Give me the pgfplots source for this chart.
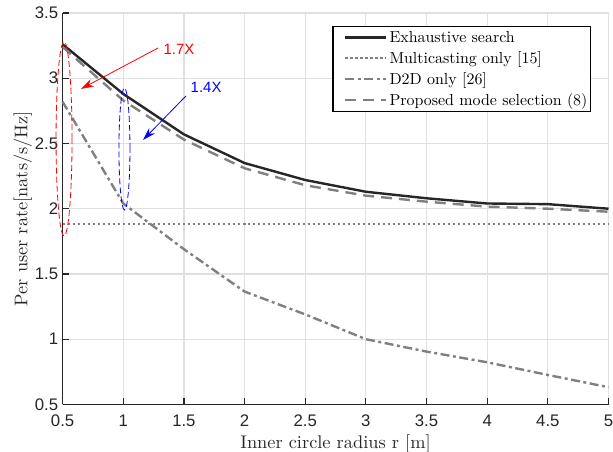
\documentclass[border=0pt]{standalone}
\usepackage{fontspec}
\setmainfont{lmroman10-regular}[Extension=.otf, BoldFont=lmroman10-bold, ItalicFont=lmroman10-italic]
\usepackage{pgfplots}
\pgfplotsset{compat=1.18}
\usetikzlibrary{arrows.meta}
\newfontfamily\arial{Liberation Sans}
\definecolor{mgray}{gray}{0.5}
\definecolor{mblack}{gray}{0.15}
\begin{document}
\begin{tikzpicture}
\begin{axis}[
  scale only axis, width=546bp, height=391.5bp,
  xmin=0.5, xmax=5, ymin=0.5, ymax=3.5,
  xtick={0.5,1,...,5}, ytick={0.5,1,...,3.5},
  axis x line*=bottom, axis y line*=left,
  axis line style={-, line width=1.4bp, color=mblack},
  every outer x axis line/.append style={-},
  every outer y axis line/.append style={-},
  tick align=inside,
  major tick length=6bp,
  tick style={line width=1.2bp, color=mblack},
  grid=major,
  grid style={line width=1.2bp, color=gray!24},
  /pgf/number format/assume math mode=true,
  ticklabel style={font=\arial\fontsize{16.8}{18}\selectfont, color=mblack},
  xticklabel style={yshift=-7bp},
  yticklabel style={xshift=-1bp},
  label style={font=\fontsize{18.4}{21}\selectfont, color=mblack},
  xlabel={Inner circle radius r [m]},
  ylabel={Per user rate[nats/s/Hz]},
  xlabel style={yshift=-1bp},
  ylabel style={yshift=-4bp},
  clip=false,
  legend cell align=left,
  legend style={at={(rel axis cs:0.968,0.968)}, anchor=north east,
    font=\fontsize{16}{19}\selectfont, draw=black, line width=1.3bp,
    fill=white, inner xsep=1bp, inner ysep=3bp, row sep=3.5bp},
  legend image code/.code={\path (0bp,0bp); \draw[#1] (10bp,0bp) -- (51bp,0bp);},
]
\addplot[mblack, line width=2.4bp] coordinates {
 (0.5,3.26) (1,2.88) (1.5,2.57) (2,2.35) (2.5,2.22) (3,2.13) (3.5,2.08) (4,2.04) (4.5,2.035) (5,2.00)};
\addlegendentry{Exhaustive search}
\addplot[mgray, line width=2.6bp, dash pattern=on 2.6bp off 2.4bp] coordinates {
 (0.5,1.883) (1,1.883) (1.5,1.883) (2,1.883) (2.5,1.883) (3,1.883) (3.5,1.883) (4,1.883) (4.5,1.883) (5,1.883)};
\addlegendentry{Multicasting only [15]}
\addplot[mgray, line width=2.4bp, dash pattern=on 9bp off 3.5bp on 3bp off 3.5bp] coordinates {
 (0.5,2.82) (1,2.04) (1.5,1.69) (2,1.365) (2.5,1.19) (3,1.00) (3.5,0.905) (4,0.823) (4.5,0.726) (5,0.632)};
\addlegendentry{D2D only [26]}
\addplot[mgray, line width=2.4bp, dash pattern=on 11bp off 7bp] coordinates {
 (0.5,3.24) (1,2.83) (1.5,2.53) (2,2.31) (2.5,2.18) (3,2.10) (3.5,2.054) (4,2.016) (4.5,2.00) (5,1.977)};
\addlegendentry{Proposed mode selection (8)}
\draw[red, line width=0.8bp, dash pattern=on 6bp off 3bp] (axis cs:0.512,2.535) ellipse [x radius=8bp, y radius=97bp];
\draw[blue, line width=0.8bp, dash pattern=on 6bp off 3bp] (axis cs:1.01,2.458) ellipse [x radius=5.5bp, y radius=61bp];
\draw[red, line width=0.8bp, -{Stealth[length=13bp, width=8bp]}] (axis cs:1.287,3.232) -- (axis cs:0.652,2.918);
\draw[blue, line width=0.8bp, -{Stealth[length=13bp, width=8bp]}] (axis cs:1.517,2.864) -- (axis cs:1.163,2.527);
\node[red, font=\arial\fontsize{15}{17}\selectfont] at (axis cs:1.46,3.224) {1.7X};
\node[blue, font=\arial\fontsize{15}{17}\selectfont] at (axis cs:1.683,2.933) {1.4X};
\coordinate (sw) at (rel axis cs:0,0);
\coordinate (ne) at (rel axis cs:1,1);
\end{axis}
\pgfresetboundingbox
\path ([xshift=-62.6bp,yshift=-47.5bp]sw) rectangle ([xshift=4.5bp,yshift=13bp]ne);
\end{tikzpicture}
\end{document}
